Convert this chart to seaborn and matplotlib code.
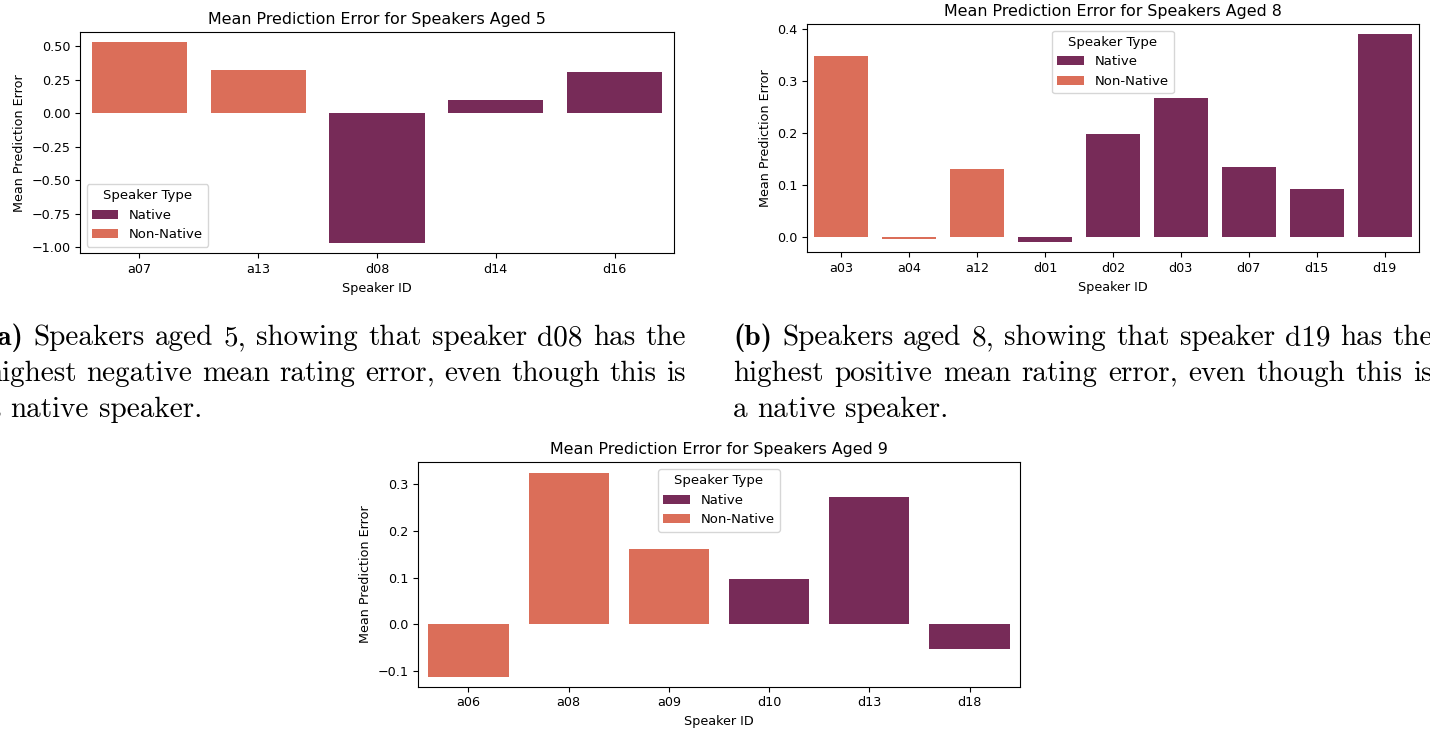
import matplotlib
matplotlib.use("Agg")
import matplotlib.pyplot as plt
from matplotlib.transforms import IdentityTransform
import seaborn as sns
import pandas as pd

# Mean prediction error per speaker, grouped by age
speakers_5 = ["a07", "a13", "d08", "d14", "d16"]
types_5 = ["Non-Native", "Non-Native", "Native", "Native", "Native"]
errors_5 = [0.531, 0.324, -0.972, 0.100, 0.309]

speakers_8 = ["a03", "a04", "a12", "d01", "d02", "d03", "d07", "d15", "d19"]
types_8 = ["Non-Native", "Non-Native", "Non-Native", "Native", "Native",
           "Native", "Native", "Native", "Native"]
errors_8 = [0.347, -0.004, 0.131, -0.009, 0.197, 0.267, 0.135, 0.092, 0.389]

speakers_9 = ["a06", "a08", "a09", "d10", "d13", "d18"]
types_9 = ["Non-Native", "Non-Native", "Non-Native", "Native", "Native", "Native"]
errors_9 = [-0.112, 0.325, 0.162, 0.096, 0.272, -0.054]

hue_levels = ["Native", "Non-Native"]

caption_a = [
    "(a) Speakers aged 5, showing that speaker d08 has the",
    "highest negative mean rating error, even though this is",
    "a native speaker.",
]
caption_b = [
    "(b) Speakers aged 8, showing that speaker d19 has the",
    "highest positive mean rating error, even though this is",
    "a native speaker.",
]

W, H = 1430, 731
fig = plt.figure(figsize=(W / 100, H / 100), dpi=100)

TICK = 9.2
LEGEND = 9.5
TITLE = 11.4


def px_axes(left, top, right, bottom):
    return fig.add_axes([left / W, 1 - bottom / H, (right - left) / W, (bottom - top) / H])


def panel(ax, ids, kinds, errs, age, legend_loc):
    df = pd.DataFrame({"Speaker ID": ids, "Speaker Type": kinds,
                       "Mean Prediction Error": errs})
    sns.barplot(data=df, x="Speaker ID", y="Mean Prediction Error",
                hue="Speaker Type", hue_order=hue_levels, palette="rocket",
                dodge=False, ax=ax)
    ax.set_title(f"Mean Prediction Error for Speakers Aged {age}", fontsize=TITLE)
    ax.set_xlabel("Speaker ID", fontsize=TICK)
    ax.set_ylabel("Mean Prediction Error", fontsize=TICK)
    ax.tick_params(labelsize=TICK)
    ax.legend(title="Speaker Type", loc=legend_loc, fontsize=LEGEND,
              title_fontsize=LEGEND)


ax_a = px_axes(80, 32.3, 674, 253.3)
panel(ax_a, speakers_5, types_5, errors_5, 5, "lower left")

ax_b = px_axes(807.3, 24, 1418.7, 252.3)
panel(ax_b, speakers_8, types_8, errors_8, 8, "upper center")

ax_c = px_axes(418.3, 462.3, 1019.7, 686.7)
panel(ax_c, speakers_9, types_9, errors_9, 9, "upper center")

# Justified serif captions under the two top panels
CAP_SIZE = 21
renderer = fig.canvas.get_renderer()


def caption(lines, x0, width, baselines):
    for i, (line, base) in enumerate(zip(lines, baselines)):
        words = line.split(" ")
        y = H - base
        if i == len(lines) - 1:
            # last line is set ragged: natural word spacing
            space = fig.text(0, 0, "a a", family="cmr10", fontsize=CAP_SIZE,
                             transform=IdentityTransform())
            single = fig.text(0, 0, "aa", family="cmr10", fontsize=CAP_SIZE,
                              transform=IdentityTransform())
            gap = (space.get_window_extent(renderer).width
                   - single.get_window_extent(renderer).width)
            space.remove()
            single.remove()
            x = x0
            for w in words:
                t = fig.text(x, y, w, family="cmr10", fontsize=CAP_SIZE,
                             va="baseline", transform=IdentityTransform())
                x += t.get_window_extent(renderer).width + gap
            continue
        texts = []
        for j, w in enumerate(words):
            fam = "cmb10" if (i == 0 and j == 0) else "cmr10"
            t = fig.text(0, y, w, family=fam, fontsize=CAP_SIZE,
                         va="baseline", transform=IdentityTransform())
            texts.append(t)
        widths = [t.get_window_extent(renderer).width for t in texts]
        gap = (width - sum(widths)) / (len(words) - 1)
        x = x0
        for t, wd in zip(texts, widths):
            t.set_x(x)
            x += wd + gap


caption(caption_a, -14, 700, [345, 381, 417])
caption(caption_b, 733, 700, [345, 381, 417])

fig.savefig("out.png", dpi=100)
